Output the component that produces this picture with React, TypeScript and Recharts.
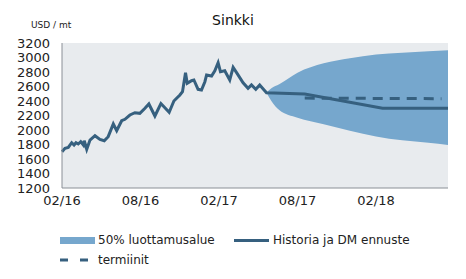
import { ComposedChart, Area, Line, XAxis, YAxis, CartesianGrid } from 'recharts'

// x = months since 02/2016
const histMonths = [
  0, 0.23, 0.48, 0.74, 0.92, 1.07, 1.24, 1.43, 1.63, 1.7, 1.89, 2.14, 2.52, 2.9, 3.23, 3.53,
  3.92, 4.18, 4.56, 4.81, 5.19, 5.57, 5.95, 6.34, 6.64, 7.1, 7.56, 8.19, 8.55, 9.01, 9.21,
  9.44, 9.57, 9.9, 10.08, 10.4, 10.66, 10.92, 11.05, 11.43, 11.68, 11.93, 12.11, 12.44,
  12.82, 13.08, 13.38, 13.84, 14.22, 14.48, 14.81, 15.11, 15.63,
]
const histValues = [
  1700, 1748, 1761, 1825, 1793, 1825, 1807, 1839, 1793, 1852, 1734, 1862, 1921, 1871, 1852, 1908,
  2083, 1990, 2128, 2148, 2207, 2239, 2230, 2299, 2359, 2193, 2365, 2245, 2400, 2483, 2529,
  2790, 2644, 2680, 2690, 2561, 2552, 2666, 2759, 2745, 2818, 2928, 2804, 2818,
  2690, 2864, 2782, 2652, 2575, 2621, 2561, 2621, 2514,
]

const forecastMonths = [18.55, 24.5, 29.5]
const forecastValues = [2497, 2299, 2299]

const futuresMonths = [18.55, 29]
const futuresValues = [2440, 2432]

const bandMonths = [15.63, 16.0, 16.6, 18, 20, 22, 24, 26, 28, 29.5]
const bandLow = [2514, 2400, 2276, 2170, 2080, 1990, 1912, 1858, 1825, 1793]
const bandHigh = [2514, 2575, 2630, 2790, 2920, 2989, 3040, 3065, 3085, 3100]

const yTicks = [1200, 1400, 1600, 1800, 2000, 2200, 2400, 2600, 2800, 3000, 3200]
const xTicks = [0, 6, 12, 18, 24]
const xLabels = ['02/16', '08/16', '02/17', '08/17', '02/18']

const lineData = [
  ...histMonths.map((m, i) => ({ m, v: histValues[i] })),
  ...forecastMonths.map((m, i) => ({ m, v: forecastValues[i] })),
]
const futuresData = futuresMonths.map((m, i) => ({ m, v: futuresValues[i] }))
const bandData = bandMonths.map((m, i) => ({ m, range: [bandLow[i], bandHigh[i]] }))

const LINE = '#36607f'
const BAND = '#76a7cd'
const FONT = '"DejaVu Sans", sans-serif'

export default function App() {
  return (
    <div style={{ position: 'absolute', left: 0, top: 0, width: 466, height: 279, background: '#fff', fontFamily: FONT }}>
      <div style={{ position: 'absolute', left: 0, width: 466, top: 12, textAlign: 'center', fontSize: 14, color: '#111' }}>
        Sinkki
      </div>
      <div style={{ position: 'absolute', left: 31, top: 20, fontSize: 9, color: '#222' }}>USD / mt</div>
      <ComposedChart width={466} height={215} margin={{ top: 43, right: 18, bottom: 0, left: 0 }}>
        <CartesianGrid fill="#e8ebee" stroke="none" horizontal={false} vertical={false} />
        <XAxis
          type="number"
          dataKey="m"
          domain={[0, 29.5]}
          ticks={xTicks}
          tickFormatter={(t: number) => xLabels[xTicks.indexOf(t)] ?? ''}
          tickLine={false}
          axisLine={{ stroke: '#8a8f96' }}
          tick={{ fill: '#222', fontSize: 13, fontFamily: FONT }}
          height={27}
          allowDuplicatedCategory={false}
        />
        <YAxis
          type="number"
          domain={[1200, 3200]}
          ticks={yTicks}
          tickLine={false}
          axisLine={{ stroke: '#8a8f96' }}
          tick={{ fill: '#222', fontSize: 13, fontFamily: FONT }}
          tickMargin={6}
          width={62}
          interval={0}
        />
        <Area
          data={bandData}
          dataKey="range"
          type="monotone"
          fill={BAND}
          fillOpacity={1}
          stroke="none"
          isAnimationActive={false}
        />
        <Line
          data={futuresData}
          dataKey="v"
          stroke={LINE}
          strokeWidth={3}
          strokeDasharray="10 7"
          dot={false}
          isAnimationActive={false}
        />
        <Line
          data={lineData}
          dataKey="v"
          stroke={LINE}
          strokeWidth={3}
          dot={false}
          isAnimationActive={false}
        />
      </ComposedChart>
      <div style={{ position: 'absolute', left: 60, top: 230, fontSize: 12, color: '#222', width: 400 }}>
        <div style={{ display: 'flex', alignItems: 'center', height: 20 }}>
          <span style={{ display: 'inline-block', width: 35, height: 7, background: BAND, marginRight: 3 }} />
          <span style={{ width: 136 }}>50% luottamusalue</span>
          <span style={{ display: 'inline-block', width: 35, height: 3, background: LINE, marginRight: 4 }} />
          <span>Historia ja DM ennuste</span>
        </div>
        <div style={{ display: 'flex', alignItems: 'center', height: 20 }}>
          <svg width={36} height={4} style={{ marginRight: 2 }}>
            <line x1={0} y1={2} x2={36} y2={2} stroke={LINE} strokeWidth={3} strokeDasharray="8 12" />
          </svg>
          <span>termiinit</span>
        </div>
      </div>
    </div>
  )
}
